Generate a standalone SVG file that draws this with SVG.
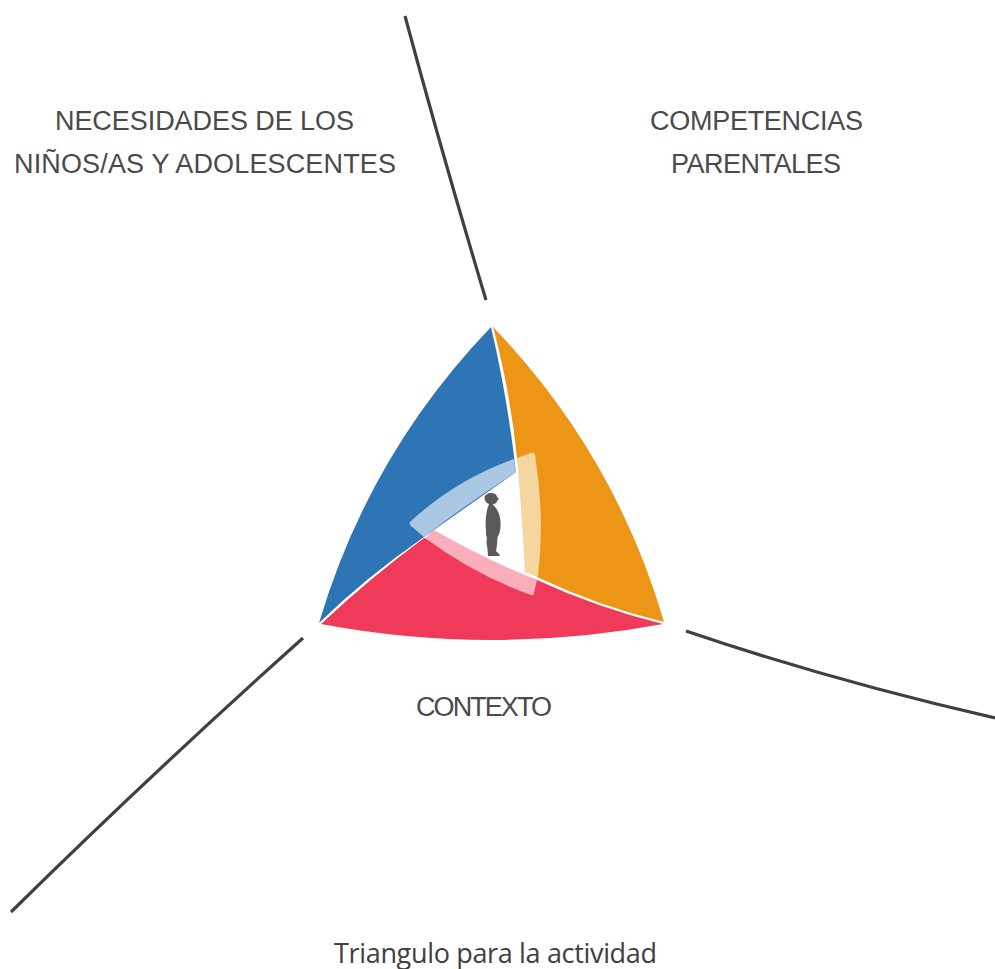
<svg xmlns="http://www.w3.org/2000/svg" width="995" height="969" viewBox="0 0 995 969">
<style>
.rule{fill:none;stroke:#404040;stroke-width:3.2}
.lab{font-family:"Liberation Sans",Arial,sans-serif;font-size:27px;fill:#4a4a4a}
.cap{font-family:"Open Sans","Noto Sans",sans-serif;font-size:27px;fill:#404040}
</style>
<rect width="995" height="969" fill="#fff"/>
<g id="connectors">
<path class="rule" d="M405,16 Q441,150 486,300"/>
<path class="rule" d="M686,631 Q830,680 995,718"/>
<path class="rule" d="M303,638 Q150,775 11,912"/>
</g>
<g id="node-necesidades">
<path fill="#2e75b6" d="M491,327 Q369,454 319,623 Q365,578 424,537 L516,472 Q507,395 491,327Z"/>
<path fill="#aac8e3" d="M514,459 Q455,480 410,522 Q409,525 411,526 L424,537 Q468,503 516,472Z"/>
<text class="lab" x="55" y="130" textLength="299" lengthAdjust="spacing">NECESIDADES DE LOS</text>
<text class="lab" x="14" y="173" textLength="382" lengthAdjust="spacing">NIÑOS/AS Y ADOLESCENTES</text>
</g>
<g id="node-competencias">
<path fill="#ed9516" d="M493,327 Q615,454 664,622 Q598,606 537,577 L517,458 Q510,390 493,327Z"/>
<path fill="#f5d5a0" d="M517,458 L531,453 Q534,452 535,455 Q545,515 538,577 L525,572 Q522,515 517,458Z"/>
<text class="lab" x="650" y="130" textLength="213" lengthAdjust="spacing">COMPETENCIAS</text>
<text class="lab" x="671" y="173" textLength="170" lengthAdjust="spacing">PARENTALES</text>
</g>
<g id="node-contexto">
<path fill="#ef3a5a" d="M321,624 Q370,578 424,538 L537,580 Q598,608 663,624 Q492,656 321,624Z"/>
<path fill="#f8aebb" d="M425,538 Q475,575 531,595 Q534,596 534,593 L537,580 Q484,559 434,530Z"/>
<text class="lab" x="416" y="716" textLength="136" lengthAdjust="spacing">CONTEXTO</text>
</g>
<g id="figure">
<path fill="#595959" d="M491,493 C495,492.5 497,495 497,497 L499,499 L497,501 C497,503 495,504 493,504 L493,505 C497,508 500,514 500.5,522 C501,530 499,535 497.5,537 L497,545 L496,551 L500,555 L499.5,556 L488,556 L487.5,549 L486.5,543 L487,538 L486,535 L486,530 C485,525 486,512 488,507 L489,504 C486,503 484.5,500 484.5,498 C484.5,495 488,493 491,493Z"/>
</g>
<text class="cap" x="334" y="963" textLength="323" lengthAdjust="spacing">Triangulo para la actividad</text>
</svg>
